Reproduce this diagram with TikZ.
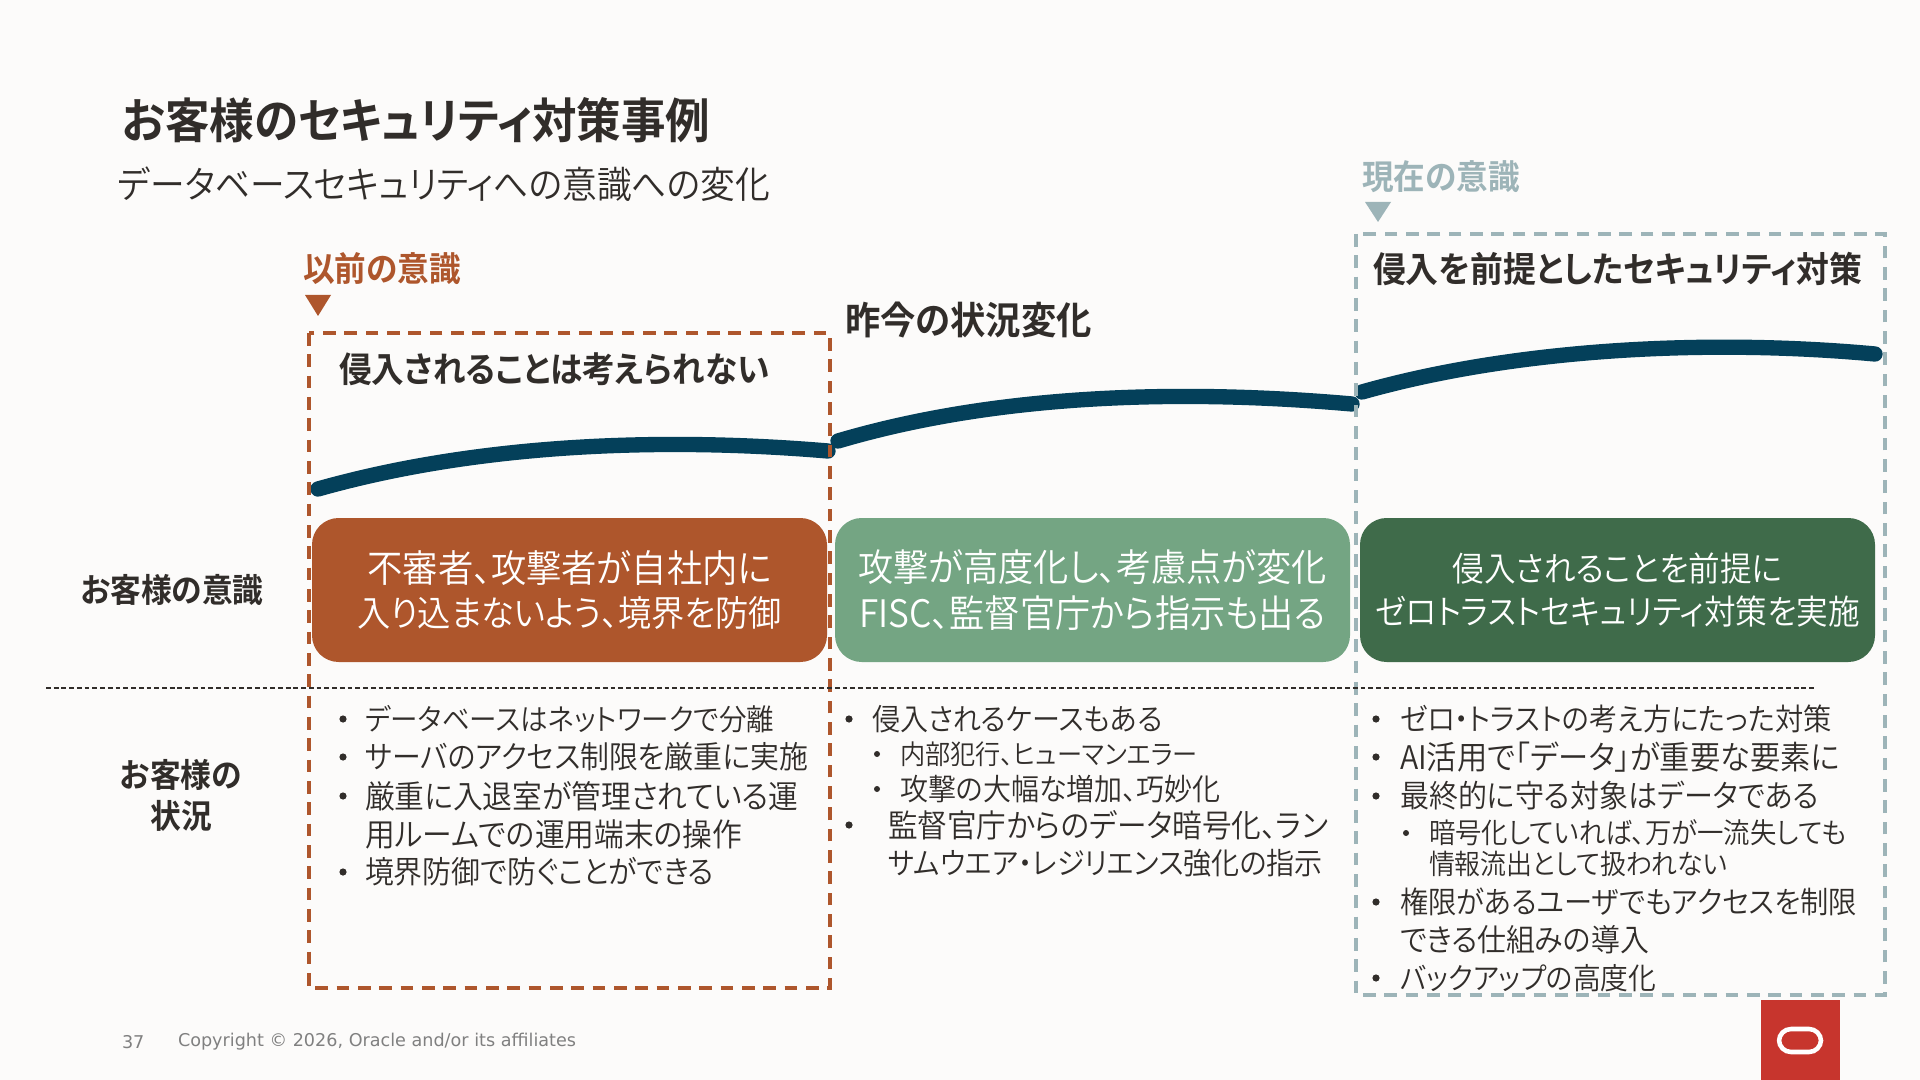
\documentclass[tikz,border=0pt]{standalone}
\usepackage{fontspec}
\setmainfont{Noto Sans CJK JP DemiLight}[RawFeature=+palt,FakeStretch=0.93,BoldFont={Noto Sans CJK JP Bold}]
\newfontfamily\footfont{DejaVu Sans}
\definecolor{bgc}{HTML}{FCFBFA}
\definecolor{inkc}{HTML}{312D2A}
\definecolor{rust}{HTML}{AE562C}
\definecolor{sage}{HTML}{74A583}
\definecolor{forest}{HTML}{3F6B4A}
\definecolor{steel}{HTML}{9DB4B8}
\definecolor{curvec}{HTML}{04405A}
\definecolor{oraclered}{HTML}{C7352D}
\newcommand{\fs}[1]{\fontsize{#1}{#1}\selectfont}
\tikzset{
  x=0.75pt,y=-0.75pt,
  txt/.style={anchor=west,inner sep=0pt,outer sep=0pt,text=inkc},
  hd/.style={txt,font=\fs{26.3}\bfseries},
  stage/.style={txt,font=\fs{25.5}\bfseries},
  boxc/.style={draw=none,rounded corners=20pt,minimum width=386.25pt,minimum height=108pt,inner sep=0pt,align=center,text=white,anchor=center},
  wave/.style={draw=curvec,line width=11.5pt,line cap=round,line join=round},
  dashb/.style={line width=2.3pt,dash pattern=on 9.5pt off 6.5pt},
}
\begin{document}
\begin{tikzpicture}
\useasboundingbox[fill=bgc] (0,0) rectangle (1920,1080);
\node[txt,font=\fs{35.9}\bfseries] (title) at (122,120) {お客様のセキュリティ対策事例};
\node[txt,font=\fs{28}] (subtitle) at (118,184) {データベースセキュリティへの意識への変化};
% curves
\draw[wave] (318,489) .. controls (470,446) and (650,436) .. (828,451);
\draw[wave] (838,441) .. controls (990,396) and (1170,388) .. (1352,404);
\draw[wave] (1362,392) .. controls (1510,350) and (1700,338) .. (1875,354);
% stage labels
\node[stage,text=rust] (prevlabel) at (303,269) {以前の意識};
\fill[rust] (305,295) -- (331,295) -- (318,316) -- cycle;
\node[stage,text=steel] (nowlabel) at (1362,177) {現在の意識};
\fill[steel] (1365,202) -- (1391,202) -- (1378,222) -- cycle;
% dashed frames
\draw[rust,dashb] (309,333) rectangle (830,988);
\draw[steel,dashb] (1356,234) rectangle (1885,995);
% headings
\node[hd] (h1) at (339,369) {侵入されることは考えられない};
\node[hd,font=\fs{28.5}\bfseries] (h2) at (845,320) {昨今の状況変化};
\node[hd,font=\fs{26.5}\bfseries] (h3) at (1373,269) {侵入を前提としたセキュリティ対策};
% boxes
\node[boxc,fill=rust] (b1) at (569.5,590) {\fs{28.5}不審者、攻撃者が自社内に\\[7pt]\fs{26.8}入り込まないよう、境界を防御};
\node[boxc,fill=sage] (b2) at (1092.5,590) {\fs{28.4}攻撃が高度化し、考慮点が変化\\[7pt]\fs{28.4}FISC、監督官庁から指示も出る};
\node[boxc,fill=forest] (b3) at (1617.5,590) {\fs{25.5}侵入されることを前提に\\[8pt]\fs{25.5}ゼロトラストセキュリティ対策を実施};
% row labels
\node[inner sep=0pt,text=inkc,font=\fs{24.8}\bfseries] (r1) at (172,590) {お客様の意識};
\node[inner sep=0pt,text=inkc,font=\fs{24.8}\bfseries,align=center] (r2) at (181,795) {お客様の\\[6pt]状況};
\draw[inkc,line width=1pt,dash pattern=on 3.6pt off 2.2pt] (46,688) -- (1815,688);
% col 1
\foreach \yy/\ss/\tt in {719/22.2/データベースはネットワークで分離,757/23.3/サーバのアクセス制限を厳重に実施,796/24/厳重に入退室が管理されている運,872/23.3/境界防御で防ぐことができる}{
  \fill[inkc] (343,\yy) circle (3.6);
  \node[txt,font=\fs{\ss}] at (365,\yy) {\tt};
}
\node[txt,font=\fs{24}] (c1x) at (365,834) {用ルームでの運用端末の操作};
% col 2
\fill[inkc] (849,719) circle (3.6);
\node[txt,font=\fs{22.6}] (c2a) at (872,719) {侵入されるケースもある};
\fill[inkc] (877,754) circle (3);
\node[txt,font=\fs{20.3}] (c2b) at (900,754) {内部犯行、ヒューマンエラー};
\fill[inkc] (877,789) circle (3);
\node[txt,font=\fs{22.6}] (c2c) at (900,789) {攻撃の大幅な増加、巧妙化};
\fill[inkc] (849,825) circle (3.6);
\node[txt,font=\fs{23.9}] (c2d) at (888,825) {監督官庁からのデータ暗号化、ラン};
\node[txt,font=\fs{22.6}] (c2e) at (888,863) {サムウエア・レジリエンス強化の指示};
% col 3
\foreach \yy/\ss/\tt in {719/22.8/ゼロ・トラストの考え方にたった対策,757/24.4/AI活用で「データ」が重要な要素に,796/23.4/最終的に守る対象はデータである,902/22.8/権限があるユーザでもアクセスを制限,978/22.4/バックアップの高度化}{
  \fill[inkc] (1376,\yy) circle (3.6);
  \node[txt,font=\fs{\ss}] at (1400,\yy) {\tt};
}
\node[txt,font=\fs{23.3}] (c3x) at (1400,940) {できる仕組みの導入};
\fill[inkc] (1406,833) circle (3);
\node[txt,font=\fs{21.3}] (c3a) at (1429,833) {暗号化していれば、万が一流失しても};
\node[txt,font=\fs{20.9}] (c3b) at (1429,864) {情報流出として扱われない};
% footer
\node[txt,font=\footfont\fs{13.2},text=gray] (pg) at (122,1042) {37};
\node[txt,font=\footfont\fs{13.2},text=gray] (cp) at (178,1042) {Copyright © 2026, Oracle and/or its affiliates};
\fill[oraclered] (1761,1000) rectangle (1840,1080);
\draw[white,line width=3.4pt,rounded corners=9pt] (1779,1029) rectangle (1821,1052);
\end{tikzpicture}
\end{document}
